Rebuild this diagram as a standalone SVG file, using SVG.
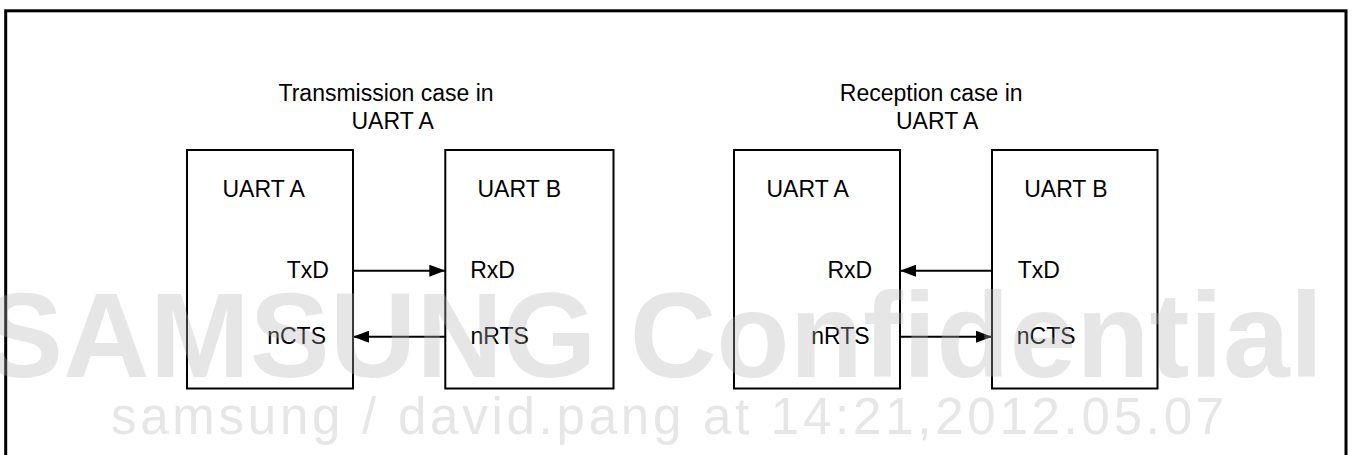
<svg xmlns="http://www.w3.org/2000/svg" width="1353" height="455" viewBox="0 0 1353 455">
<style>
text{font-family:"Liberation Sans",Arial,sans-serif;fill:#000}
.lbl{font-size:23px}
.box{fill:#fff;stroke:#000;stroke-width:2}
.wire{stroke:#000;stroke-width:2;fill:none}
.wm{fill:#b4b4b4;fill-opacity:0.33}
.wm1{font-size:120px;font-weight:bold}
.wm2{font-size:51px;letter-spacing:3.75px}
</style>
<defs>
<marker id="ah" markerUnits="userSpaceOnUse" markerWidth="16" markerHeight="12" refX="16" refY="6" orient="auto">
<path d="M0,0 L16,6 L0,12 z" fill="#000"/>
</marker>
</defs>
<rect x="0" y="0" width="1353" height="455" fill="#fff"/>
<rect id="frame" x="5.7" y="10.8" width="1340.3" height="460" fill="none" stroke="#000" stroke-width="3"/>
<g id="title-tx">
<text class="lbl" x="278.5" y="100.5">Transmission case in</text>
<text class="lbl" x="351.5" y="129.3">UART A</text>
</g>
<g id="title-rx">
<text class="lbl" x="839.8" y="100.5">Reception case in</text>
<text class="lbl" x="896" y="129.3">UART A</text>
</g>
<g id="tx-uart-a">
<rect class="box" x="187" y="150" width="166" height="238.5"/>
<text class="lbl" x="222.5" y="196.7">UART A</text>
<text class="lbl" x="286.8" y="278.3">TxD</text>
<text class="lbl" x="267.2" y="344">nCTS</text>
</g>
<g id="tx-uart-b">
<rect class="box" x="445.3" y="150" width="168.2" height="238.5"/>
<text class="lbl" x="477.5" y="196.7">UART B</text>
<text class="lbl" x="470.2" y="278.3">RxD</text>
<text class="lbl" x="470.5" y="344">nRTS</text>
</g>
<g id="rx-uart-a">
<rect class="box" x="734" y="150" width="166" height="238.5"/>
<text class="lbl" x="766.5" y="196.7">UART A</text>
<text class="lbl" x="827.5" y="278.3">RxD</text>
<text class="lbl" x="811.2" y="344">nRTS</text>
</g>
<g id="rx-uart-b">
<rect class="box" x="992" y="150" width="165.5" height="238.5"/>
<text class="lbl" x="1024.2" y="196.7">UART B</text>
<text class="lbl" x="1017.8" y="278.3">TxD</text>
<text class="lbl" x="1016.8" y="344">nCTS</text>
</g>
<g id="connectors">
<line class="wire" x1="353" y1="270.7" x2="445.3" y2="270.7" marker-end="url(#ah)"/>
<line class="wire" x1="445.3" y1="336.7" x2="353" y2="336.7" marker-end="url(#ah)"/>
<line class="wire" x1="992" y1="270.7" x2="900" y2="270.7" marker-end="url(#ah)"/>
<line class="wire" x1="900" y1="336.7" x2="992" y2="336.7" marker-end="url(#ah)"/>
</g>
<g id="watermark">
<text class="wm wm1" x="-17" y="377">SAMSUNG Confidential</text>
<text class="wm wm2" x="111" y="433.5">samsung / david.pang at 14:21,2012.05.07</text>
</g>
</svg>
